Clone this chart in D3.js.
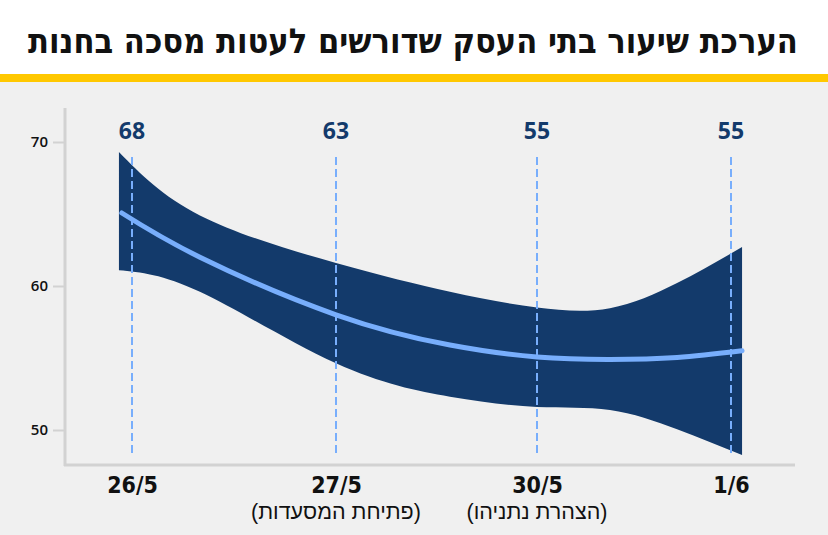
<!DOCTYPE html>
<html><head><meta charset="utf-8">
<script src="https://cdn.jsdelivr.net/npm/d3@7"></script>
<style>
html,body{margin:0;padding:0;background:#f0f0f0;}
svg{display:block;}
.ytick text{font-family:'Open Sans',sans-serif;font-weight:600;font-size:15px;fill:#111;}
</style></head>
<body>
<script>
// ---- data ----
const title = "הערכת שיעור בתי העסק שדורשים לעטות מסכה בחנות";
const categories = ["26/5", "27/5", "30/5", "1/6"];
const subLabels = ["", "(פתיחת המסעדות)", "(הצהרת נתניהו)", ""];
const pointValues = [68, 63, 55, 55];
const yTicks = [50, 60, 70];
// smoothed band (x in category-index units)
const bandX     = [-0.064, 0.333, 1, 1.567, 2, 2.376, 2.722, 3.057];
const bandUpper = [69.3, 64.9, 61.6, 59.6, 58.5, 58.45, 60.2, 62.7];
const bandLower = [61.1, 59.6, 54.63, 52.31, 51.6, 51.39, 50.05, 48.26];
const fitX      = [-0.05, 0.333, 1, 1.567, 2, 2.376, 2.722, 3.057];
const fitY      = [65.07, 62.0, 58.0, 55.9, 55.07, 54.9, 55.04, 55.5];

const W = 828, H = 535;
const svg = d3.select("body").append("svg").attr("width", W).attr("height", H);

// header
svg.append("rect").attr("x",0).attr("y",0).attr("width",W).attr("height",74).attr("fill","#ffffff");
svg.append("rect").attr("x",0).attr("y",74).attr("width",W).attr("height",8).attr("fill","#ffc800");
svg.append("rect").attr("x",0).attr("y",82).attr("width",W).attr("height",H-82).attr("fill","#f0f0f0");

const t = svg.append("text").attr("x", 413).attr("y", 53)
  .attr("text-anchor","middle").attr("direction","rtl")
  .style("font-family","'DejaVu Sans Condensed','DejaVu Sans',sans-serif")
  .style("font-weight","bold").style("font-size","30px").attr("fill","#111")
  .text(title);
const tw = t.node().getComputedTextLength();
t.style("font-size", (30*770/tw).toFixed(2)+"px");

// scales
const x = d3.scaleLinear().domain([0,1,2,3]).range([132, 336, 537, 731]);
const y = d3.scaleLinear().domain([50,70]).range([430,142]);

// axes lines
svg.append("line").attr("x1",65).attr("x2",65).attr("y1",108).attr("y2",466)
  .attr("stroke","#d2d2d2").attr("stroke-width",3);
svg.append("line").attr("x1",64).attr("x2",795).attr("y1",465).attr("y2",465)
  .attr("stroke","#d2d2d2").attr("stroke-width",3);

const yAxis = svg.append("g").attr("class","ytick").attr("transform","translate(64,0)")
  .call(d3.axisLeft(y).tickValues(yTicks).tickSize(11).tickPadding(5));
yAxis.attr("font-size", 15).attr("font-family", "'Open Sans',sans-serif");
yAxis.select(".domain").remove();
yAxis.selectAll(".tick line").attr("stroke","#d2d2d2").attr("stroke-width",2);

// band
const bandData = bandX.map((v,i)=>({x:v, lo:bandLower[i], hi:bandUpper[i]}));
svg.append("path").datum(bandData)
  .attr("d", d3.area().x(d=>x(d.x)).y0(d=>y(d.lo)).y1(d=>y(d.hi)).curve(d3.curveNatural))
  .attr("fill","#133a6b");

// dashed lines
svg.selectAll(".vline").data(categories).join("line")
  .attr("x1",(d,i)=>x(i)).attr("x2",(d,i)=>x(i)).attr("y1",157).attr("y2",454)
  .attr("stroke","#78aefc").attr("stroke-width",2).attr("stroke-dasharray","8,4");

// fit line
const fitData = fitX.map((v,i)=>({x:v, y:fitY[i]}));
svg.append("path").datum(fitData)
  .attr("d", d3.line().x(d=>x(d.x)).y(d=>y(d.y)).curve(d3.curveNatural))
  .attr("fill","none").attr("stroke","#78aefc").attr("stroke-width",5).attr("stroke-linecap","round");

// value labels
svg.selectAll(".val").data(pointValues).join("text")
  .attr("x",(d,i)=>x(i)).attr("y",139).attr("text-anchor","middle")
  .style("font-family","'Open Sans',sans-serif").style("font-weight","bold").style("font-size","23px")
  .attr("fill","#133a6b").text(d=>d);

// x axis labels
const xAxis = svg.append("g").attr("transform","translate(0,465)")
  .call(d3.axisBottom(x).tickValues([0,1,2,3]).tickFormat(i=>categories[i]).tickSize(0).tickPadding(0));
xAxis.select(".domain").remove();
xAxis.selectAll(".tick text").attr("dy",null).attr("y",28)
  .attr("fill","#111")
  .style("font-family","'DejaVu Sans Condensed','DejaVu Sans',sans-serif")
  .style("font-weight","bold").style("font-size","23px");

svg.selectAll(".sub").data(subLabels).join("text")
  .attr("x",(d,i)=>x(i)).attr("y",519).attr("text-anchor","middle").attr("direction","rtl")
  .style("font-family","'Liberation Sans',Arial,sans-serif")
  .style("font-size","21.5px").attr("fill","#111").text(d=>d);
</script>
</body></html>
